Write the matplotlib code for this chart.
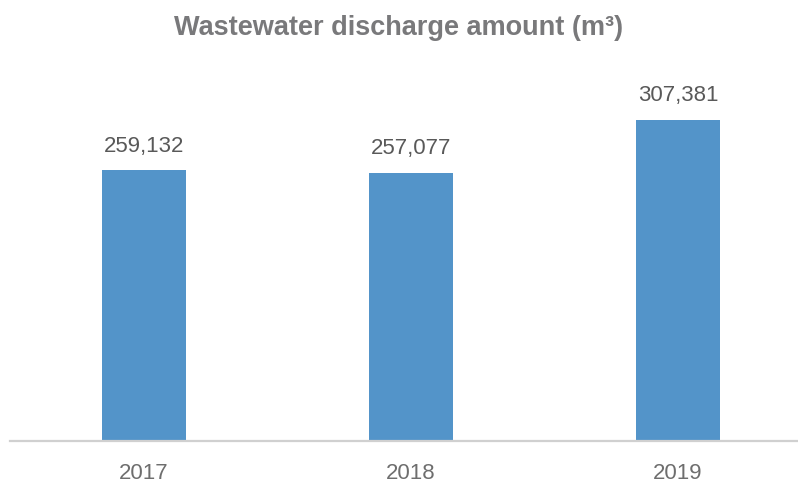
import matplotlib
matplotlib.use("Agg")
import matplotlib.pyplot as plt

years = ["2017", "2018", "2019"]
discharge = [259132, 257077, 307381]


def draw_chart():
    plt.rcParams['font.family'] = ['Liberation Sans', 'DejaVu Sans']
    fig = plt.figure(figsize=(7.98, 4.86), dpi=100)
    ax = fig.add_axes([0.0125, 0.0926, 0.9875, 0.752])

    pos = list(range(len(years)))
    ax.bar(pos, discharge, width=0.315, color='#5394C9', zorder=2)
    for x, v in zip(pos, discharge):
        ax.text(x, v + 13000, f"{v:,}", ha='center', va='bottom',
                fontsize=16, color='#595959')

    ax.set_xlim(-0.502, 2.449)
    ax.set_ylim(0, 350000)
    ax.set_xticks(pos)
    ax.set_xticklabels(years, fontsize=16, color='#6E6E6E')
    ax.tick_params(axis='x', length=0, pad=16)
    ax.set_yticks([])
    for s in ['top', 'right', 'left']:
        ax.spines[s].set_visible(False)
    ax.spines['bottom'].set_color('#D0D0D0')
    ax.spines['bottom'].set_linewidth(1.6)

    fig.text(0.5, 0.943, "Wastewater discharge amount (m³)", ha='center',
             va='center', fontsize=19.5, fontweight='bold', color='#79797B')
    fig.savefig("out.png", dpi=100)


if __name__ == "__main__":
    draw_chart()
